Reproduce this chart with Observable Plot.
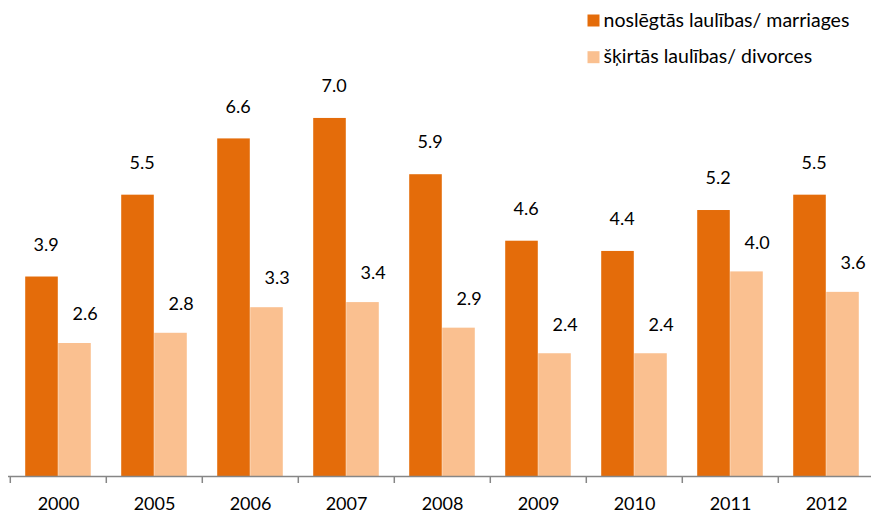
<!DOCTYPE html>
<html>
<head>
<meta charset="utf-8">
<script src="https://cdn.jsdelivr.net/npm/d3@7"></script>
<script src="https://cdn.jsdelivr.net/npm/@observablehq/plot@0.6"></script>
<style>
  html, body { margin: 0; padding: 0; background: #fff; }
  #chart svg { display: block; }
</style>
</head>
<body>
<div id="chart"></div>
<script>
const years = ["2000","2005","2006","2007","2008","2009","2010","2011","2012"];
const marriages = [3.9, 5.5, 6.6, 7.0, 5.9, 4.6, 4.4, 5.2, 5.5];
const divorces = [2.6, 2.8, 3.3, 3.4, 2.9, 2.4, 2.4, 4.0, 3.6];
const seriesNames = ["noslēgtās laulības/ marriages", "šķirtās laulības/ divorces"];
const colors = ["#E46C0A", "#FAC090"];

const mData = years.map((y, i) => ({year: y, value: marriages[i]}));
const dData = years.map((y, i) => ({year: y, value: divorces[i]}));

const W = 871, H = 513;
const FONT = "Lato, 'Open Sans', sans-serif";
const FS = 18;
const LFS = 19.5;
const bandStart = 8, bandEnd = 875.7;
const band = (bandEnd - bandStart) / years.length;
const barW = 33;
const outer = (band - 2 * barW) / 2;
const axisY = 476;
const pxPerUnit = 51.15;
const fmt = d3.format(".1f");
const legendRows = [20, 56.7];

const legendMarks = seriesNames.flatMap((name, i) => [
  Plot.dot([name], {frameAnchor: "top-left", dx: 593 - bandStart, dy: legendRows[i], symbol: "square",
    r: 12 / Math.sqrt(Math.PI), fill: colors[i]}),
  Plot.text([name], {frameAnchor: "top-left", dx: 603 - bandStart, dy: legendRows[i], text: d => d,
    textAnchor: "start", lineAnchor: "middle", fontSize: LFS, fill: "#000"})
]);

const chart = Plot.plot({
  width: W,
  height: H,
  marginLeft: bandStart,
  marginRight: 0,
  marginTop: 0,
  marginBottom: 0,
  style: {fontFamily: FONT, background: "#fff", overflow: "hidden"},
  x: {type: "band", domain: years, range: [bandStart, bandEnd], padding: 0, axis: null},
  y: {domain: [0, 8], range: [axisY, axisY - 8 * pxPerUnit], axis: null},
  marks: [
    Plot.barY(mData, {x: "year", y: "value", fill: colors[0], insetLeft: outer, insetRight: band - outer - barW}),
    Plot.barY(dData, {x: "year", y: "value", fill: colors[1], insetLeft: outer + barW, insetRight: outer}),
    Plot.text(mData, {x: "year", y: "value", text: d => fmt(d.value), dx: -barW / 2 + 4, dy: -32,
      lineAnchor: "middle", fontSize: FS, fill: "#000"}),
    Plot.text(dData, {x: "year", y: "value", text: d => fmt(d.value), dx: barW / 2 + 10, dy: -29,
      lineAnchor: "middle", fontSize: FS, fill: "#000"}),
    Plot.ruleY([0], {stroke: "#868686", strokeWidth: 1.5}),
    Plot.ruleX(years, {x: d => d, dx: -band / 2, y1: 0, y2: -7 / pxPerUnit, stroke: "#868686", strokeWidth: 1.5}),
    Plot.text(years, {x: d => d, frameAnchor: "bottom", dy: -9.5, lineAnchor: "middle", fontSize: FS, fill: "#000"}),
    ...legendMarks
  ]
});
document.getElementById("chart").appendChild(chart);
</script>
</body>
</html>
